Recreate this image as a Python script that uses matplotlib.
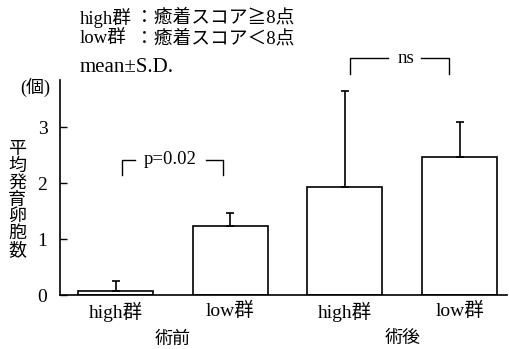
import matplotlib.pyplot as plt
import numpy as np

plt.rcParams['font.family'] = ['Liberation Serif', 'Noto Sans CJK JP']

# data
groups = ['high群', 'low群', 'high群', 'low群']
periods = ['術前', '術後']
means = [0.07, 1.23, 1.93, 2.46]
sds = [0.18, 0.23, 1.71, 0.63]
yticks = [0, 1, 2, 3]

W, H = 510, 349
fig = plt.figure(figsize=(W / 100, H / 100), dpi=100)
ax = fig.add_axes([60 / W, 1 - 295 / H, 447 / W, 215 / H])

x = np.arange(len(means))
ax.bar(x, means, width=0.655, color='white', edgecolor='black', linewidth=1.2)
ax.errorbar(x, means, yerr=[np.zeros(len(sds)), sds], fmt='none',
            ecolor='black', elinewidth=1.2, capsize=3, capthick=1.2)

ax.set_xlim(-0.484, 3.414)
ax.set_ylim(0, 3.84)
ax.set_yticks(yticks)
ax.set_yticklabels([str(t) for t in yticks], fontsize=14)
ax.set_xticks(x)
ax.set_xticklabels(groups, fontsize=14)
ax.tick_params(axis='y', direction='in', length=5, width=1, pad=9)
ax.tick_params(axis='x', length=0, pad=5)
for s in ['top', 'right']:
    ax.spines[s].set_visible(False)
for s in ['left', 'bottom']:
    ax.spines[s].set_linewidth(1.2)

# period labels under the group labels (centred between each pair of bars)
for i, p in enumerate(periods):
    xc = ax.transData.transform((2 * i + 0.5, 0))[0] / W
    fig.text(xc, 1 - 339 / H, p, ha='center', va='center', fontsize=13)

# significance brackets
def bracket(x0, x1, ytop, ylow, gap0, gap1, label, tx):
    kw = dict(color='black', lw=1, clip_on=False)
    ax.plot([x0, x0, gap0], [ylow, ytop, ytop], **kw)
    ax.plot([gap1, x1, x1], [ytop, ytop, ylow], **kw)
    ax.text(tx, ytop, label, ha='center', va='center', fontsize=13.5, clip_on=False)

bracket(0.057, 0.937, 2.42, 2.15, 0.17, 0.79, 'p=0.02', 0.48)
bracket(2.044, 2.907, 4.23, 3.94, 2.38, 2.66, 'ns', 2.53)

# header text
fig.text(80 / W, 1 - 18 / H, 'high群', fontsize=13.5, va='center')
fig.text(135 / W, 1 - 18 / H, '：癒着スコア≧8点', fontsize=13.5, va='center')
fig.text(80 / W, 1 - 39 / H, 'low群', fontsize=13.5, va='center')
fig.text(135 / W, 1 - 39 / H, '：癒着スコア＜8点', fontsize=13.5, va='center')
fig.text(80 / W, 1 - 68 / H, 'mean±S.D.', fontsize=15, va='center')
fig.text(35 / W, 1 - 88 / H, '(個)', fontsize=13, va='center', ha='center')
fig.text(17 / W, 1 - 200 / H, '\n'.join('平均発育卵胞数'), fontsize=13,
         va='center', ha='center', linespacing=0.98)

fig.savefig('out.png', dpi=100)
